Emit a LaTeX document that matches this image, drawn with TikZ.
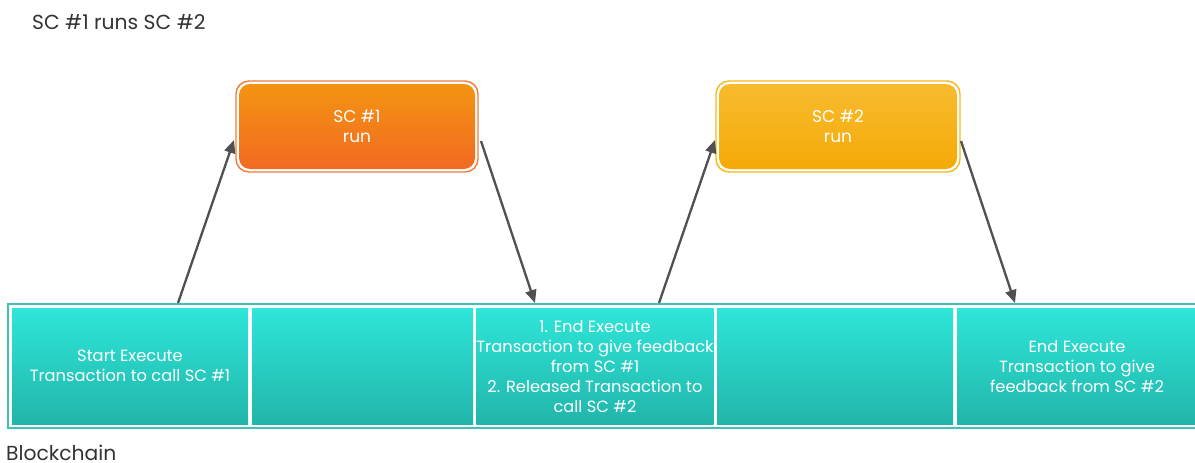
\documentclass[tikz,border=0pt]{standalone}
\usepackage{fontspec}
\setmainfont{Poppins}
\usetikzlibrary{arrows.meta}
\definecolor{tealtop}{HTML}{2EE6D9}
\definecolor{tealbot}{HTML}{22B5AA}
\definecolor{tealline}{HTML}{3EC2B8}
\definecolor{orgtop}{HTML}{F39411}
\definecolor{orgbot}{HTML}{F26A22}
\definecolor{orgline}{HTML}{F47B3A}
\definecolor{yeltop}{HTML}{F8BB2E}
\definecolor{yelbot}{HTML}{F4AA07}
\definecolor{yelline}{HTML}{F8B81A}
\definecolor{arrowgrey}{HTML}{505050}
\definecolor{titlegrey}{HTML}{333333}
\tikzset{
  x=1pt, y=-1pt,
  cell/.style={inner sep=0pt, outer sep=0pt, top color=tealtop, bottom color=tealbot,
    text=white, font=\fontsize{16.3}{20}\selectfont, align=center},
  scbox/.style={rounded corners=11pt, inner sep=0pt, outer sep=0pt, text=white,
    font=\fontsize{17}{20}\selectfont, align=center, minimum width=236pt, minimum height=85pt},
  link/.style={draw=arrowgrey, line width=2.3pt, -{Triangle[length=13pt,width=11pt]}},
  caption/.style={anchor=base west, inner sep=0pt, text=titlegrey, font=\fontsize{20.3}{22}\selectfont}
}
\begin{document}
\begin{tikzpicture}
\useasboundingbox (0,0) rectangle (1195,463);
\fill[white] (0,0) rectangle (1195,463);

\node[caption] (title) at (32,29) {SC \#1 runs SC \#2};
\node[caption] (chain) at (6,460) {Blockchain};

% blockchain strip
\draw[tealline, line width=1.2pt] (8,304) rectangle (1200,428);
\node[cell, minimum width=236pt, minimum height=116pt, text depth=-3pt] (c1) at (130,366)
  {Start Execute\\Transaction to call SC \#1};
\node[cell, minimum width=221pt, minimum height=116pt] (c2) at (362.5,366) {};
\node[cell, minimum width=236pt, minimum height=116pt, text depth=-3pt] (c3) at (595,366)
  {1. End Execute\\Transaction to give feedback\\from SC \#1\\2. Released Transaction to\\call SC \#2};
\node[cell, minimum width=236pt, minimum height=116pt] (c4) at (835,366) {};
\node[cell, minimum width=240pt, minimum height=116pt, text depth=-3pt] (c5) at (1077,366)
  {End Execute\\Transaction to give\\feedback from SC \#2};

% smart contract boxes
\draw[orgline, line width=1.4pt, rounded corners=13pt] (236,81) rectangle (478,172);
\node[scbox, top color=orgtop, bottom color=orgbot, text depth=-4pt] (sc1) at (357,126.5) {SC \#1\\run};
\draw[yelline, line width=1.4pt, rounded corners=13pt] (716,81) rectangle (960,172);
\node[scbox, top color=yeltop, bottom color=yelbot, minimum width=238pt, text depth=-4pt] (sc2) at (838,126.5) {SC \#2\\run};

% connector ends
\coordinate (a1s) at (178,303);
\coordinate (a1e) at (234,140);
\coordinate (a2s) at (481,141);
\coordinate (a2e) at (535,303);
\coordinate (a3s) at (659,303);
\coordinate (a3e) at (715,140);
\coordinate (a4s) at (961,141);
\coordinate (a4e) at (1015,303);

\draw[link] (a1s) -- (a1e);
\draw[link] (a2s) -- (a2e);
\draw[link] (a3s) -- (a3e);
\draw[link] (a4s) -- (a4e);
\end{tikzpicture}
\end{document}
